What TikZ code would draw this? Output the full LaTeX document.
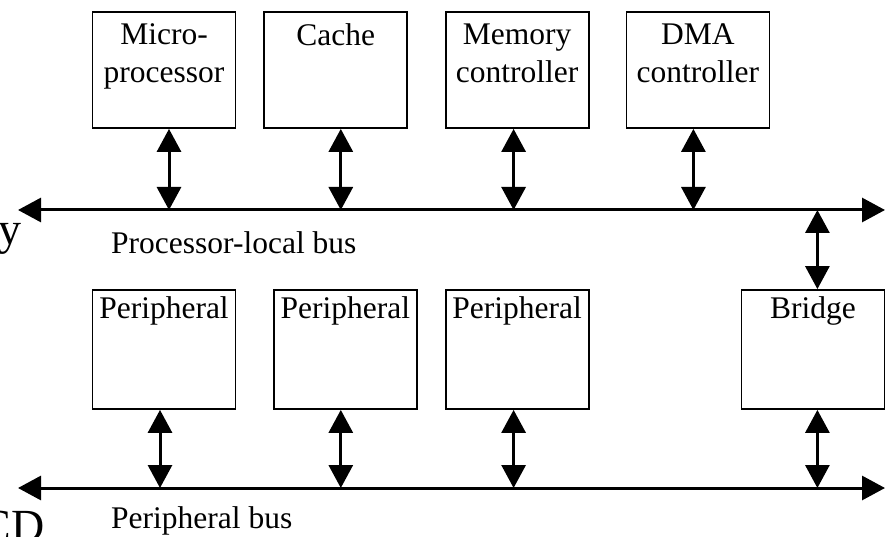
\documentclass[tikz,border=0pt]{standalone}
\usepackage{fontspec}
\setmainfont{Liberation Serif}
\usetikzlibrary{positioning, arrows.meta}

\tikzset{
    unit/.style={draw, line width=1.8pt, minimum width=143pt, minimum height=116pt, inner sep=0pt},
    unittext/.style={inner sep=0pt, align=center, font=\fontsize{31.5}{38}\selectfont},
    buslabel/.style={inner sep=0pt, anchor=base west, font=\fontsize{31.5}{38}\selectfont},
    frag/.style={inner sep=0pt, anchor=base east, font=\fontsize{46}{50}\selectfont},
    link/.style={<->, line width=3pt},
}

\begin{document}
\begin{tikzpicture}[x=1pt,y=1pt,>={Triangle[length=23pt,width=24pt]}]
    \useasboundingbox (0,0) rectangle (890,536);
    \clip (0,0) rectangle (890,536);

    % processor side
    \node[unit] (micro) at (164,466) {};
    \node[unit] (cache) [right=27pt of micro] {};
    \node[unit] (memctl) [right=36.5pt of cache] {};
    \node[unit] (dmactl) [right=36pt of memctl] {};
    \node[unittext] (micro-t) [below=12.5pt of micro.north] {Micro-\\processor};
    \node[unittext] (cache-t) [below=12.5pt of cache.north] {Cache};
    \node[unittext] (memctl-t) [below=12.5pt of memctl.north] {Memory\\controller};
    \node[unittext] (dmactl-t) [below=12.5pt of dmactl.north] {DMA\\controller};

    % peripheral side
    \node[unit, minimum height=119pt] (per1) at (164,186.5) {};
    \node[unit, minimum height=119pt] (per2) [right=36.5pt of per1] {};
    \node[unit, minimum height=119pt] (per3) [right=27pt of per2] {};
    \node[unit, minimum height=119pt] (bridge) [right=151pt of per3] {};
    \node[unittext] (per1-t) [below=7pt of per1.north] {Peripheral};
    \node[unittext] (per2-t) [below=7pt of per2.north] {Peripheral};
    \node[unittext] (per3-t) [below=7pt of per3.north] {Peripheral};
    \node[unittext] (bridge-t) [below=7pt of bridge.north] {Bridge};

    % buses
    \coordinate (plbw) at (18,326);
    \coordinate (plbe) at (885,326);
    \coordinate (pbw) at (18,48);
    \coordinate (pbe) at (885,48);
    \draw[link] (plbw) -- (plbe);
    \draw[link] (pbw) -- (pbe);
    \node[buslabel] (plb-l) at (111,283) {Processor-local bus};
    \node[buslabel] (pb-l) at (111,8) {Peripheral bus};

    \draw[link] ([xshift=5pt]micro.south) -- ([xshift=5pt]micro.south |- plbw);
    \draw[link] ([xshift=5pt]cache.south) -- ([xshift=5pt]cache.south |- plbw);
    \draw[link] ([xshift=-3.5pt]memctl.south) -- ([xshift=-3.5pt]memctl.south |- plbw);
    \draw[link] ([xshift=-4.5pt]dmactl.south) -- ([xshift=-4.5pt]dmactl.south |- plbw);
    \draw[link] ([xshift=4.5pt]bridge.north) -- ([xshift=4.5pt]bridge.north |- plbw);

    \draw[link] ([xshift=-4pt]per1.south) -- ([xshift=-4pt]per1.south |- pbw);
    \draw[link] ([xshift=-4.5pt]per2.south) -- ([xshift=-4.5pt]per2.south |- pbw);
    \draw[link] ([xshift=-3.5pt]per3.south) -- ([xshift=-3.5pt]per3.south |- pbw);
    \draw[link] ([xshift=4.5pt]bridge.south) -- ([xshift=4.5pt]bridge.south |- pbw);

    % cut-off text at the left edge
    \node[frag] (frag-y) at (22,291) {y};
    \node[frag] (frag-cd) at (45,-5.5) {CD};
\end{tikzpicture}
\end{document}
